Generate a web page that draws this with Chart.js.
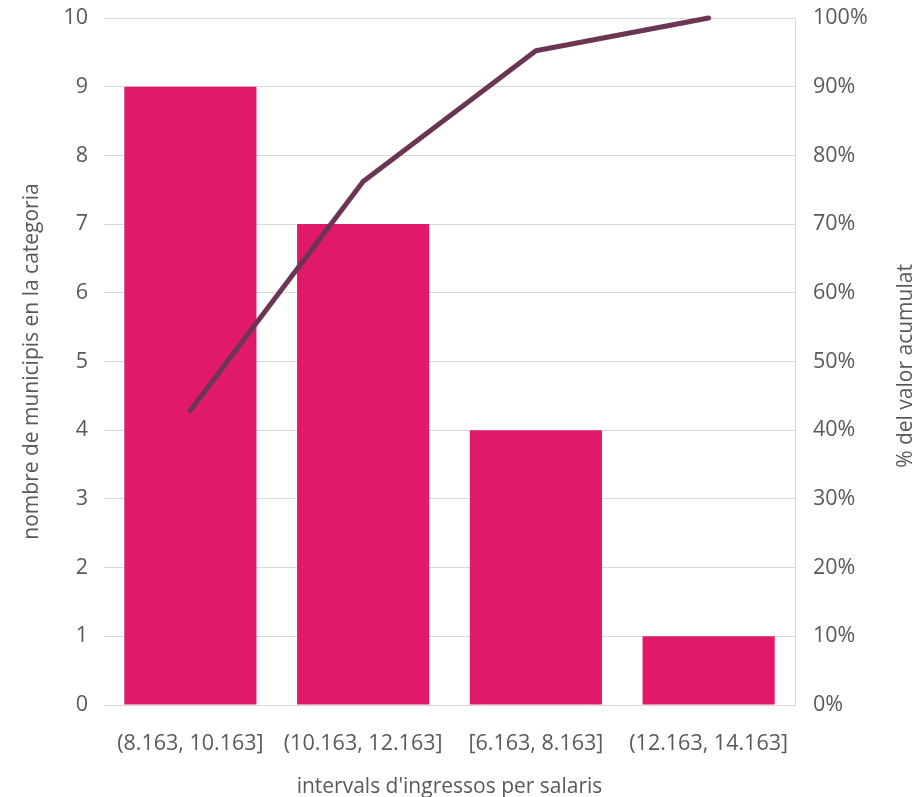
<!DOCTYPE html>
<html>
<head>
<meta charset="utf-8">
<script src="https://cdn.jsdelivr.net/npm/chart.js@4.4.1/dist/chart.umd.min.js"></script>
<style>
html,body{margin:0;padding:0;background:#fff;}
#wrap{width:917px;height:797px;}
</style>
</head>
<body>
<div id="wrap"><canvas id="c" width="917" height="797"></canvas></div>
<script>
const categories = ['(8.163, 10.163]', '(10.163, 12.163]', '[6.163, 8.163]', '(12.163, 14.163]'];
const counts = [9, 7, 4, 1];
const cumulativePct = [42.86, 76.19, 95.24, 100];
const leftTicks = [0,1,2,3,4,5,6,7,8,9,10];
const rightTicks = [0,10,20,30,40,50,60,70,80,90,100];
const leftTitle = 'nombre de municipis en la categoria';
const rightTitle = '% del valor acumulat';
const xTitle = "intervals d'ingressos per salaris";

const FONT = "'Open Sans', 'Noto Sans', sans-serif";
const TXT = '#595959';
const GRID = '#d9d9d9';
const TICK_SIZE = 21.5;
const TITLE_SIZE = 21;

const rightTitlePlugin = {
  id: 'rightTitle',
  afterDraw(chart) {
    const ctx = chart.ctx;
    ctx.save();
    ctx.translate(906, 366);
    ctx.rotate(-Math.PI/2);
    ctx.font = TITLE_SIZE + "px " + FONT;
    ctx.fillStyle = TXT;
    ctx.textAlign = 'center';
    ctx.textBaseline = 'middle';
    ctx.fillText(rightTitle, 0, 0);
    ctx.restore();
  }
};

new Chart(document.getElementById('c'), {
  data: {
    labels: categories,
    datasets: [
      {
        type: 'line',
        data: cumulativePct,
        yAxisID: 'y2',
        borderColor: '#6b3553',
        borderWidth: 5,
        borderCapStyle: 'round',
        borderJoinStyle: 'round',
        pointRadius: 0,
        tension: 0,
        clip: false,
        order: 0
      },
      {
        type: 'bar',
        data: counts,
        yAxisID: 'y',
        backgroundColor: '#e0196a',
        barPercentage: 0.765,
        categoryPercentage: 1,
        order: 1
      }
    ]
  },
  options: {
    responsive: false,
    animation: false,
    devicePixelRatio: 1,
    layout: { padding: { top: 18, left: 0, right: 0, bottom: 0 } },
    plugins: { legend: { display: false }, tooltip: { enabled: false } },
    scales: {
      x: {
        grid: { display: false },
        border: { display: false },
        ticks: { color: TXT, font: { family: FONT, size: TICK_SIZE }, padding: 18, maxRotation: 0 },
        title: { display: true, text: xTitle, color: TXT, font: { family: FONT, size: TITLE_SIZE }, padding: { top: 0, bottom: -3 } },
        afterFit(s) { s.height = 92; s.paddingLeft = 0; s.paddingRight = 0; }
      },
      y: {
        position: 'left',
        min: 0, max: 10,
        afterBuildTicks(s) { s.ticks = leftTicks.map(v => ({ value: v })); },
        grid: { color: GRID, lineWidth: 1, drawTicks: false },
        border: { display: false },
        ticks: { color: TXT, font: { family: FONT, size: TICK_SIZE }, padding: 16 },
        title: { display: true, text: leftTitle, color: TXT, font: { family: FONT, size: TITLE_SIZE }, padding: { top: 19, bottom: 0 } },
        afterFit(s) { s.width = 104; s.paddingTop = 0; s.paddingBottom = 0; }
      },
      y2: {
        position: 'right',
        min: 0, max: 100,
        afterBuildTicks(s) { s.ticks = rightTicks.map(v => ({ value: v })); },
        grid: { display: false, drawTicks: false },
        border: { display: true, color: GRID, width: 1 },
        ticks: { color: TXT, font: { family: FONT, size: TICK_SIZE }, padding: 18, callback: v => v + '%' },
        afterFit(s) { s.width = 122; s.paddingTop = 0; s.paddingBottom = 0; }
      }
    }
  },
  plugins: [rightTitlePlugin]
});
</script>
</body>
</html>
